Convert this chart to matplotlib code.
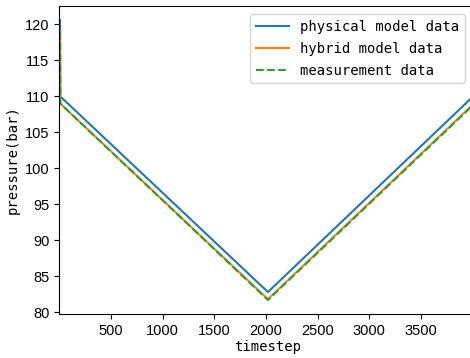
import matplotlib
matplotlib.use('Agg')
import matplotlib.pyplot as plt

# breakpoints of the piecewise-linear pressure traces (timestep, bar)
timesteps = [8, 10, 2020, 3999]
physical = [120.6, 110.0, 82.8, 109.9]
hybrid = [119.0, 109.0, 81.8, 108.8]
measurement = [119.0, 109.0, 81.7, 108.7]

labels = ['physical model data', 'hybrid model data', 'measurement data']

mono = 'DejaVu Sans Mono'

fig = plt.figure(figsize=(4.70, 3.58), dpi=100)
# the axes run slightly past the right edge of the picture, as in the reference
ax = fig.add_axes([0.126, 0.123, 0.886, 0.860])

ax.plot(timesteps, physical, color='tab:blue', label=labels[0])
ax.plot(timesteps, hybrid, color='tab:orange', label=labels[1])
ax.plot(timesteps, measurement, color='tab:green', linestyle='--', label=labels[2])

ax.set_xlim(0, 4030)
ax.set_xticks([500, 1000, 1500, 2000, 2500, 3000, 3500])
ax.set_yticks([80, 85, 90, 95, 100, 105, 110, 115, 120])
for t in ax.get_xticklabels() + ax.get_yticklabels():
    t.set_fontfamily('Liberation Sans')
    t.set_fontsize(10.5)

ax.set_xlabel('timestep', fontfamily=mono, fontsize=10, labelpad=2)
ax.set_ylabel('pressure(bar)', fontfamily=mono, fontsize=10, labelpad=4)
ax.legend(loc='upper right', bbox_to_anchor=(465 / 470, 1 - 14 / 358),
          bbox_transform=fig.transFigure,
          prop={'family': mono, 'size': 10}, handlelength=2.4,
          labelspacing=0.58, borderaxespad=0)

fig.savefig('out.png', dpi=100)
